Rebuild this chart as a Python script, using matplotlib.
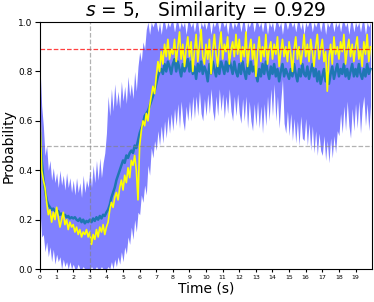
import numpy as np
import matplotlib
matplotlib.use("Agg")
import matplotlib.pyplot as plt

# time axis, one sample every 0.1 s
t = np.arange(200) * 0.1

mean_prob = [
    0.55, 0.44, 0.37, 0.32, 0.28, 0.26, 0.25, 0.24, 0.245, 0.235,
    0.23, 0.235, 0.22, 0.225, 0.215, 0.22, 0.21, 0.215, 0.205, 0.21,
    0.205, 0.21, 0.2, 0.195, 0.205, 0.19, 0.2, 0.185, 0.195, 0.19,
    0.2, 0.19, 0.205, 0.195, 0.21, 0.2, 0.215, 0.205, 0.22, 0.215,
    0.23, 0.24, 0.26, 0.29, 0.31, 0.33, 0.36, 0.38, 0.4, 0.42,
    0.44, 0.43, 0.46, 0.45, 0.47, 0.48, 0.47, 0.5, 0.49, 0.52,
    0.55, 0.57, 0.59, 0.62, 0.63, 0.64, 0.66, 0.68, 0.7, 0.72,
    0.75, 0.78, 0.8, 0.81, 0.79, 0.83, 0.8, 0.84, 0.82, 0.79,
    0.83, 0.85, 0.8, 0.84, 0.81, 0.78, 0.83, 0.8, 0.82, 0.85,
    0.8, 0.84, 0.79, 0.82, 0.77, 0.83, 0.8, 0.84, 0.79, 0.82,
    0.8, 0.76, 0.83, 0.79, 0.84, 0.81, 0.78, 0.83, 0.79, 0.84,
    0.82, 0.79, 0.84, 0.8, 0.85, 0.82, 0.79, 0.84, 0.8, 0.78,
    0.83, 0.79, 0.84, 0.8, 0.77, 0.83, 0.79, 0.84, 0.8, 0.82,
    0.79, 0.76, 0.81, 0.78, 0.83, 0.79, 0.84, 0.8, 0.77, 0.82,
    0.79, 0.83, 0.78, 0.81, 0.76, 0.8, 0.83, 0.78, 0.81, 0.79,
    0.77, 0.81, 0.78, 0.83, 0.79, 0.76, 0.81, 0.78, 0.83, 0.79,
    0.78, 0.82, 0.77, 0.8, 0.83, 0.78, 0.81, 0.76, 0.8, 0.75,
    0.78, 0.81, 0.76, 0.8, 0.75, 0.79, 0.82, 0.77, 0.8, 0.83,
    0.78, 0.81, 0.79, 0.83, 0.78, 0.81, 0.77, 0.8, 0.83, 0.78,
    0.81, 0.78, 0.83, 0.79, 0.77, 0.81, 0.78, 0.83, 0.79, 0.81,
]

sample_prob = [
    0.62, 0.4, 0.36, 0.33, 0.27, 0.22, 0.24, 0.19, 0.23, 0.2,
    0.25, 0.21, 0.17, 0.2, 0.23, 0.18, 0.2, 0.16, 0.19, 0.17,
    0.18, 0.15, 0.17, 0.14, 0.16, 0.13, 0.15, 0.14, 0.16, 0.13,
    0.15, 0.1, 0.14, 0.12, 0.16, 0.13, 0.17, 0.15, 0.18, 0.14,
    0.17, 0.19, 0.24, 0.27, 0.25, 0.29, 0.31, 0.28, 0.33, 0.36,
    0.32, 0.38, 0.35, 0.41, 0.37, 0.44, 0.42, 0.46, 0.4, 0.28,
    0.5, 0.56, 0.6, 0.58, 0.63, 0.6, 0.66, 0.7, 0.74, 0.71,
    0.78, 0.84, 0.8, 0.88, 0.83, 0.91, 0.86, 0.93, 0.85, 0.89,
    0.87, 0.93, 0.84, 0.9, 0.96, 0.85, 0.91, 0.82, 0.89, 0.94,
    0.86, 0.92, 0.8, 0.88, 0.95, 0.84, 0.9, 0.97, 0.86, 0.83,
    0.91, 0.85, 0.93, 0.79, 0.88, 0.95, 0.87, 0.82, 0.9, 0.96,
    0.85, 0.91, 0.88, 0.94, 0.83, 0.89, 0.92, 0.86, 0.95, 0.87,
    0.93, 0.84, 0.9, 0.86, 0.96, 0.82, 0.89, 0.93, 0.85, 0.91,
    0.78, 0.88, 0.94, 0.84, 0.9, 0.86, 0.95, 0.83, 0.89, 0.92,
    0.85, 0.91, 0.87, 0.94, 0.82, 0.88, 0.93, 0.86, 0.9, 0.84,
    0.92, 0.87, 0.8, 0.89, 0.94, 0.85, 0.9, 0.83, 0.88, 0.95,
    0.86, 0.91, 0.84, 0.93, 0.88, 0.82, 0.9, 0.95, 0.85, 0.89,
    0.93, 0.84, 0.88, 0.72, 0.86, 0.91, 0.83, 0.94, 0.87, 0.9,
    0.85, 0.92, 0.88, 0.95, 0.83, 0.89, 0.93, 0.86, 0.91, 0.84,
    0.9, 0.94, 0.85, 0.89, 0.82, 0.92, 0.87, 0.95, 0.84, 0.9,
]

upper_prob = [
    0.82, 0.66, 0.58, 0.46, 0.5, 0.4, 0.44, 0.36, 0.41, 0.35,
    0.39, 0.33, 0.4, 0.34, 0.38, 0.32, 0.39, 0.33, 0.37, 0.31,
    0.36, 0.3, 0.37, 0.31, 0.35, 0.29, 0.38, 0.31, 0.36, 0.33,
    0.4, 0.33, 0.42, 0.35, 0.44, 0.36, 0.45, 0.37, 0.43, 0.47,
    0.55, 0.7, 0.62, 0.73, 0.64, 0.75, 0.66, 0.72, 0.65, 0.76,
    0.68, 0.74, 0.67, 0.78, 0.7, 0.75, 0.69, 0.8, 0.72, 0.82,
    0.88, 0.84, 0.92, 0.89, 0.97, 1.0, 0.95, 1.0, 0.98, 1.0,
    1.0, 0.96, 1.0, 0.95, 1.0, 1.0, 0.97, 1.0, 0.98, 1.0,
    1.0, 0.96, 1.0, 1.0, 0.97, 1.0, 0.98, 1.0, 0.95, 1.0,
    1.0, 0.98, 1.0, 0.96, 1.0, 1.0, 0.95, 1.0, 0.98, 1.0,
    0.97, 1.0, 1.0, 0.95, 1.0, 0.98, 1.0, 1.0, 0.96, 1.0,
    1.0, 0.98, 1.0, 0.95, 1.0, 1.0, 0.97, 1.0, 0.98, 1.0,
    1.0, 0.96, 1.0, 1.0, 0.95, 1.0, 0.98, 1.0, 1.0, 0.96,
    1.0, 1.0, 0.98, 1.0, 0.96, 1.0, 1.0, 0.95, 1.0, 0.98,
    1.0, 0.96, 1.0, 1.0, 0.98, 1.0, 0.95, 1.0, 1.0, 0.97,
    1.0, 1.0, 0.98, 1.0, 0.96, 1.0, 1.0, 0.97, 1.0, 0.95,
    1.0, 0.98, 1.0, 1.0, 0.96, 1.0, 0.98, 1.0, 1.0, 0.96,
    1.0, 1.0, 0.95, 1.0, 0.98, 1.0, 1.0, 0.96, 1.0, 0.98,
    1.0, 0.96, 1.0, 1.0, 0.98, 1.0, 0.95, 1.0, 1.0, 0.96,
    1.0, 0.98, 1.0, 0.96, 1.0, 1.0, 0.95, 1.0, 0.98, 1.0,
]

lower_prob = [
    0.24, 0.13, 0.14, 0.07, 0.11, 0.05, 0.09, 0.03, 0.08, 0.02,
    0.06, 0.03, 0.05, 0.0, 0.04, 0.01, 0.03, 0.0, 0.03, 0.0,
    0.02, 0.0, 0.0, 0.02, 0.0, 0.0, 0.01, 0.0, 0.0, 0.0,
    0.0, 0.01, 0.0, 0.0, 0.01, 0.0, 0.0, 0.01, 0.0, 0.0,
    0.0, 0.01, 0.0, 0.03, 0.0, 0.04, 0.01, 0.05, 0.02, 0.07,
    0.03, 0.09, 0.06, 0.13, 0.1, 0.17, 0.12, 0.2, 0.15, 0.23,
    0.22, 0.3, 0.27, 0.34, 0.3, 0.42, 0.38, 0.49, 0.45, 0.52,
    0.48, 0.56, 0.5, 0.58, 0.51, 0.6, 0.53, 0.62, 0.55, 0.63,
    0.56, 0.65, 0.58, 0.67, 0.57, 0.68, 0.6, 0.56, 0.66, 0.6,
    0.68, 0.6, 0.7, 0.61, 0.7, 0.62, 0.72, 0.63, 0.6, 0.69,
    0.62, 0.71, 0.63, 0.73, 0.64, 0.6, 0.7, 0.62, 0.73, 0.64,
    0.71, 0.61, 0.7, 0.63, 0.73, 0.64, 0.6, 0.7, 0.62, 0.71,
    0.63, 0.59, 0.69, 0.6, 0.7, 0.57, 0.68, 0.6, 0.56, 0.67,
    0.58, 0.68, 0.57, 0.66, 0.55, 0.67, 0.58, 0.7, 0.6, 0.73,
    0.62, 0.75, 0.6, 0.7, 0.57, 0.68, 0.77, 0.59, 0.55, 0.64,
    0.54, 0.63, 0.52, 0.61, 0.51, 0.6, 0.5, 0.62, 0.53, 0.52,
    0.61, 0.5, 0.59, 0.48, 0.58, 0.47, 0.56, 0.46, 0.55, 0.48,
    0.46, 0.54, 0.44, 0.52, 0.43, 0.53, 0.45, 0.54, 0.47, 0.56,
    0.54, 0.63, 0.55, 0.66, 0.56, 0.68, 0.58, 0.53, 0.65, 0.56,
    0.67, 0.57, 0.68, 0.55, 0.65, 0.7, 0.58, 0.67, 0.56, 0.66,
]

s_value = 5
similarity = 0.929
threshold = 0.89
t_mark = 3

fig = plt.figure(figsize=(3.74, 3.02), dpi=100)
ax = fig.add_axes([0.107, 0.109, 0.888, 0.818])

ax.fill_between(t, lower_prob, upper_prob, color="#8080ff", linewidth=0)
ax.plot(t, mean_prob, color="#1f77b4", linewidth=1.8)
ax.plot(t, sample_prob, color="#ffff00", linewidth=1.2)

ax.axhline(threshold, color="red", linestyle="--", linewidth=0.9, alpha=0.75)
ax.axhline(0.5, color="grey", linestyle="--", linewidth=0.9, alpha=0.6)
ax.axvline(t_mark, color="grey", linestyle="--", linewidth=0.9, alpha=0.6)

ax.set_xlim(0, 20)
ax.set_ylim(0, 1)
ax.set_xticks(range(20))
ax.tick_params(axis="x", labelsize=4.5, length=2.5, pad=2)
ax.tick_params(axis="y", labelsize=6.5, length=3.5, pad=2)
ax.set_xlabel("Time (s)", fontsize=10, labelpad=1)
ax.set_ylabel("Probability", fontsize=10, labelpad=2)
ax.set_title(f"$s$ = {s_value},   Similarity = {similarity}", fontsize=13.4, pad=3)

fig.savefig("out.png", dpi=100)
